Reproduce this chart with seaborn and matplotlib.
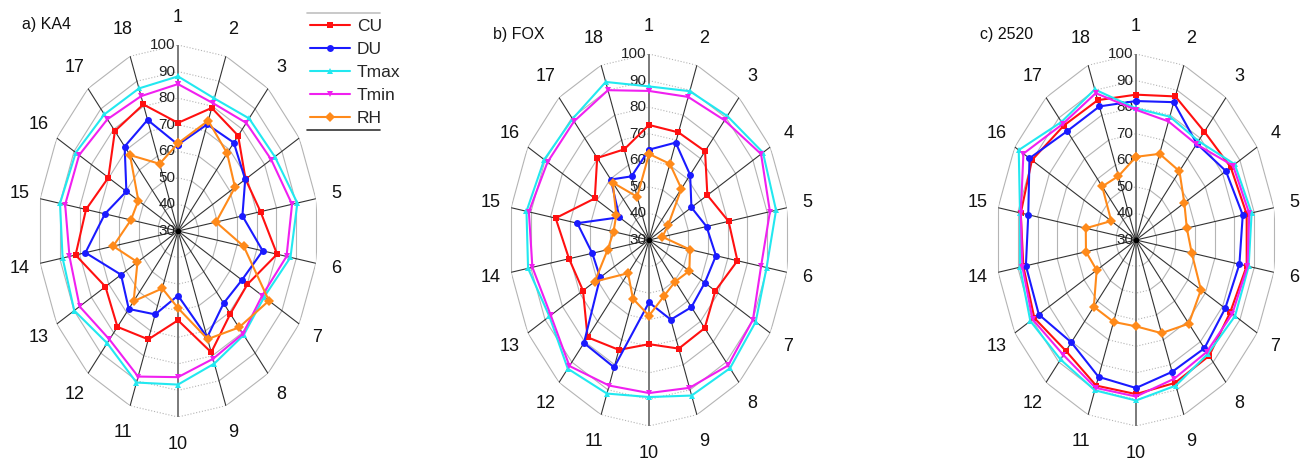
import numpy as np
import pandas as pd
import matplotlib
matplotlib.use("Agg")
import matplotlib.pyplot as plt
import seaborn as sns
from matplotlib.lines import Line2D
from matplotlib.patches import Rectangle
from matplotlib.transforms import ScaledTranslation

spokes = list(range(1, 19))
series_names = ["CU", "DU", "Tmax", "Tmin", "RH"]
radial_ticks = [30, 40, 50, 60, 70, 80, 90, 100]

# a) KA4
ka4_cu = [70.7, 79.3, 76.8, 69.0, 71.9, 80.3, 70.1, 70.7, 78.6, 63.6, 73.4, 77.1, 71.9, 82.0, 76.7, 70.2, 79.1, 80.7]
ka4_du = [62.5, 72.7, 73.4, 68.8, 62.7, 73.0, 66.9, 65.5, 72.6, 54.3, 63.4, 68.3, 62.9, 77.0, 67.1, 59.8, 71.5, 74.5]
ka4_tmax = [88.2, 83.1, 85.3, 85.9, 90.6, 87.1, 79.7, 81.1, 83.1, 87.8, 90.7, 85.1, 89.9, 88.6, 89.9, 89.0, 87.3, 87.1]
ka4_tmin = [85.3, 81.2, 83.1, 83.8, 87.9, 85.1, 78.6, 80.5, 81.2, 85.0, 88.3, 83.3, 86.8, 85.1, 87.3, 87.1, 84.9, 84.0]
ka4_rh = [63.0, 74.2, 68.2, 62.9, 49.3, 63.4, 82.5, 77.4, 73.3, 59.0, 53.0, 64.5, 53.4, 62.9, 53.9, 52.9, 67.3, 56.9]

# b) FOX
fox_cu = [73.3, 73.1, 73.6, 63.7, 70.4, 74.9, 68.3, 73.3, 73.5, 69.2, 74.0, 77.8, 68.1, 70.6, 77.4, 61.3, 70.3, 66.3]
fox_du = [64.0, 69.0, 62.0, 54.5, 59.2, 64.0, 62.2, 63.0, 61.9, 53.5, 81.0, 80.6, 58.2, 58.8, 66.4, 47.1, 59.7, 55.5]
fox_tmax = [87.8, 89.6, 90.9, 95.8, 94.5, 89.7, 91.6, 93.0, 92.3, 89.1, 91.5, 93.2, 87.5, 91.4, 92.2, 90.5, 89.5, 93.3]
fox_tmin = [86.1, 87.3, 88.8, 94.7, 91.4, 86.9, 90.0, 91.6, 89.2, 87.6, 88.3, 91.9, 86.7, 89.2, 91.0, 88.6, 88.3, 90.0]
fox_rh = [62.4, 60.5, 55.2, 41.0, 36.8, 50.8, 53.3, 50.4, 52.3, 58.5, 53.5, 46.3, 61.3, 51.0, 48.0, 48.9, 58.2, 47.3]

# c) 2520
c2520_cu = [84.7, 87.5, 83.2, 84.7, 86.2, 86.2, 84.4, 86.9, 87.2, 88.0, 88.3, 84.5, 88.7, 87.2, 88.5, 90.1, 86.2, 86.0]
c2520_du = [82.3, 85.2, 77.3, 81.9, 84.2, 82.5, 81.5, 83.2, 82.8, 85.7, 84.8, 80.3, 86.1, 85.9, 84.7, 91.5, 83.5, 83.5]
c2520_tmax = [79.5, 79.4, 78.6, 87.0, 88.7, 87.2, 87.2, 85.9, 88.3, 90.4, 90.2, 88.7, 91.0, 88.9, 88.9, 97.7, 88.0, 90.3]
c2520_tmin = [79.0, 77.5, 77.0, 86.0, 87.5, 86.6, 85.6, 85.0, 85.6, 88.9, 89.2, 86.5, 89.7, 87.7, 88.5, 95.0, 87.0, 88.8]
c2520_rh = [61.3, 64.5, 63.8, 57.9, 55.8, 58.3, 67.5, 71.1, 67.3, 62.5, 62.8, 62.8, 52.7, 55.4, 55.5, 44.3, 56.3, 55.6]

panels = [
    ("a) KA4", [ka4_cu, ka4_du, ka4_tmax, ka4_tmin, ka4_rh]),
    ("b) FOX", [fox_cu, fox_du, fox_tmax, fox_tmin, fox_rh]),
    ("c) 2520", [c2520_cu, c2520_du, c2520_tmax, c2520_tmin, c2520_rh]),
]

palette = {"CU": "#ff1010", "DU": "#1a1aff", "Tmax": "#22e8f0", "Tmin": "#f020f0", "RH": "#ff8a1a"}
markers = {"CU": "s", "DU": "o", "Tmax": "^", "Tmin": "v", "RH": "D"}

sns.set_theme(style="white")
plt.rcParams["font.family"] = ["Liberation Sans", "DejaVu Sans"]

fig = plt.figure(figsize=(13.04, 4.66), dpi=100)

# axes boxes (fig fraction): ellipse radii ~140 x 186 px
boxes = [
    [38 / 1304, 49 / 466, 280 / 1304, 372 / 466],
    [509 / 1304, 40 / 466, 280 / 1304, 372 / 466],
    [996 / 1304, 40 / 466, 280 / 1304, 372 / 466],
]
title_pos = [(22 / 1304, 1 - 25 / 466), (493 / 1304, 1 - 34 / 466), (980 / 1304, 1 - 34 / 466)]

theta = np.deg2rad(np.arange(18) * 20.0)
theta_closed = np.append(theta, 2 * np.pi)

for (title, values), box, tpos in zip(panels, boxes, title_pos):
    ax = fig.add_axes(box, projection="polar")
    ax.set_aspect("auto")
    ax.set_theta_zero_location("N")
    ax.set_theta_direction(-1)
    ax.set_rlim(30, 100)
    ax.grid(False)
    ax.spines["polar"].set_visible(False)
    ax.set_xticks([])
    ax.set_yticks([])

    # polygon rings
    for r in radial_ticks[1:]:
        for i in range(18):
            j = i + 1
            ls = ":" if i in (17, 0, 8, 9) else "-"
            ax.plot([theta_closed[i], theta_closed[j]], [r, r], color="#b4b4b4",
                    lw=0.8, ls=ls, zorder=1)
    # spokes
    for i, t in enumerate(theta):
        if i in (0, 9):
            ax.plot([t, t], [30, 100], color="#7a7a7a", lw=1.4, zorder=1.5)
        else:
            ax.plot([t, t], [30, 100], color="#333333", lw=0.8, zorder=1.5)

    rows = []
    for name, vals in zip(series_names, values):
        closed = list(vals) + [vals[0]]
        for t, v in zip(theta_closed, closed):
            rows.append({"theta": t, "value": v, "series": name})
    df = pd.DataFrame(rows)
    sns.lineplot(data=df, x="theta", y="value", hue="series", style="series",
                 hue_order=series_names, style_order=series_names,
                 palette=palette, markers=markers, dashes=False, sort=False,
                 estimator=None, lw=1.5, markersize=5, markeredgewidth=0,
                 legend=False, ax=ax, zorder=3)
    ax.set_xlabel("")
    ax.set_ylabel("")
    ax.set_rlim(30, 100)
    ax.plot([0], [30], marker="o", color="black", markersize=3, zorder=4)

    shift = ax.transData + ScaledTranslation(-2 / 72, 0, fig.dpi_scale_trans)
    for r in radial_ticks:
        ax.text(0, r, str(r), transform=shift, ha="right", va="center",
                fontsize=11, color="#222222", zorder=2)
    for t, s in zip(theta, spokes):
        ax.text(t, 110.5, str(s), ha="center", va="center", fontsize=13,
                color="#111111", clip_on=False)
    fig.text(tpos[0], tpos[1], title, ha="left", va="center", fontsize=11.5, color="#111111")

    if title.startswith("a)"):
        # white box behind the legend hides the spoke label beneath it
        fig.add_artist(Rectangle((305 / 1304, 1 - 131 / 466), 78 / 1304, 119 / 466,
                                 transform=fig.transFigure, facecolor="white",
                                 edgecolor="none", zorder=3))
        handles = [Line2D([0], [0], color=palette[n], marker=markers[n], lw=1.5,
                          markersize=5, markeredgewidth=0) for n in series_names]
        fig.legend(handles, series_names, loc="upper left",
                   bbox_to_anchor=(303 / 1304, 1 - 12 / 466), frameon=False,
                   fontsize=12.5, handlelength=2.3, handletextpad=0.4,
                   labelspacing=0.45, borderaxespad=0)
        fig.add_artist(Line2D([307 / 1304, 380 / 1304], [1 - 13 / 466] * 2,
                              transform=fig.transFigure, color="#c0c0c0", lw=1.2, zorder=4))
        fig.add_artist(Line2D([307 / 1304, 380 / 1304], [1 - 130 / 466] * 2,
                              transform=fig.transFigure, color="#333333", lw=1.2, zorder=4))

fig.savefig("out.png", dpi=100, facecolor="white")
